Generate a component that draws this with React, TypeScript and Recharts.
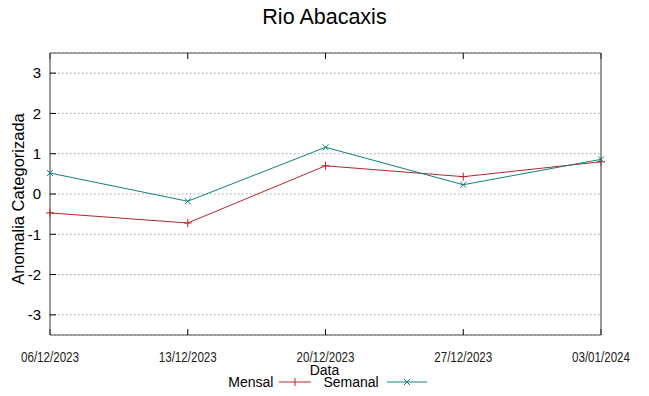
import { LineChart, Line, XAxis, YAxis, CartesianGrid } from 'recharts'

const dates = ['06/12/2023', '13/12/2023', '20/12/2023', '27/12/2023', '03/01/2024']
const mensal = [-0.47, -0.72, 0.7, 0.43, 0.8]
const semanal = [0.52, -0.18, 1.16, 0.23, 0.86]
const yTicks = [-3, -2, -1, 0, 1, 2, 3]

const RED = '#b0282c'
const TEAL = '#10807f'
const FONT = "'Liberation Sans', Arial, sans-serif"

const data = dates.map((d, i) => ({ date: d, mensal: mensal[i], semanal: semanal[i] }))

const PlusDot = (props: any) => {
  const { cx, cy } = props
  if (cx == null || cy == null) return <g />
  return (
    <path d={`M${cx - 4},${cy}H${cx + 4}M${cx},${cy - 4}V${cy + 4}`} stroke={RED} strokeWidth={1} fill="none" />
  )
}

const CrossDot = (props: any) => {
  const { cx, cy } = props
  if (cx == null || cy == null) return <g />
  return (
    <path d={`M${cx - 3},${cy - 3}L${cx + 3},${cy + 3}M${cx - 3},${cy + 3}L${cx + 3},${cy - 3}`} stroke={TEAL} strokeWidth={1} fill="none" />
  )
}

// narrow date labels under the x axis
const DateTick = (props: any) => {
  const { x, y, payload } = props
  return (
    <text
      transform={`translate(${x},${y + 31}) scale(0.8,1)`}
      textAnchor="middle"
      fontSize={14.5}
      fontFamily={FONT}
      fill="#222"
    >
      {payload.value}
    </text>
  )
}

const LegendBox = () => (
  <div
    style={{
      position: 'absolute',
      top: 374,
      left: 0,
      width: 649,
      display: 'flex',
      justifyContent: 'center',
      alignItems: 'center',
      fontFamily: FONT,
      fontSize: 14,
      color: '#000',
    }}
  >
    <span style={{ marginLeft: 6 }}>Mensal</span>
    <svg width={40} height={12} style={{ marginLeft: 2 }}>
      <line x1={4} y1={6} x2={36} y2={6} stroke={RED} />
      <path d="M20,2V10" stroke={RED} />
    </svg>
    <span style={{ marginLeft: 8 }}>Semanal</span>
    <svg width={46} height={12} style={{ marginLeft: 2 }}>
      <line x1={6} y1={6} x2={46} y2={6} stroke={TEAL} />
      <path d="M23,3L29,9M23,9L29,3" stroke={TEAL} />
    </svg>
  </div>
)

const empty = () => <g />

export default function App() {
  return (
    <div style={{ position: 'absolute', left: 0, top: 0, width: 649, height: 396, background: '#fff' }}>
      <div style={{ position: 'absolute', top: 5, width: 649, textAlign: 'center', fontFamily: FONT, fontSize: 21.5 }}>
        Rio Abacaxis
      </div>
      <div
        style={{
          position: 'absolute',
          left: 18,
          top: 199,
          transform: 'translate(-50%, -50%) rotate(-90deg)',
          fontFamily: FONT,
          fontSize: 16.5,
          whiteSpace: 'nowrap',
        }}
      >
        Anomalia Categorizada
      </div>
      <div style={{ position: 'absolute', top: 362, width: 649, textAlign: 'center', fontFamily: FONT, fontSize: 14 }}>
        Data
      </div>
      <LineChart width={649} height={396} data={data} margin={{ top: 52, right: 47, bottom: 60, left: 49 }}>
        <CartesianGrid vertical={false} horizontal stroke="#a0a0a0" strokeDasharray="1.5 2.5" />
        <XAxis
          dataKey="date"
          height={1}
          interval={0}
          axisLine={{ stroke: '#555', strokeWidth: 1.2 }}
          tickLine={{ stroke: '#000' }}
          tickSize={-6}
          tick={<DateTick />}
        />
        <XAxis
          dataKey="date"
          xAxisId="t"
          orientation="top"
          height={1}
          interval={0}
          axisLine={{ stroke: '#555', strokeWidth: 1.2 }}
          tickLine={{ stroke: '#000' }}
          tickSize={-6}
          tick={empty}
        />
        <YAxis
          width={1}
          type="number"
          domain={[-3.5, 3.5]}
          ticks={yTicks}
          interval={0}
          axisLine={{ stroke: '#555', strokeWidth: 1.2 }}
          tickLine={{ stroke: '#000' }}
          tickSize={-6}
          tickMargin={15}
          tick={{ fill: '#000', fontSize: 15, fontFamily: FONT }}
        />
        <YAxis
          yAxisId="r"
          orientation="right"
          width={1}
          type="number"
          domain={[-3.5, 3.5]}
          ticks={yTicks}
          interval={0}
          axisLine={{ stroke: '#555', strokeWidth: 1.2 }}
          tickLine={{ stroke: '#000' }}
          tickSize={-6}
          tick={empty}
        />
        <Line
          type="linear"
          dataKey="mensal"
          name="Mensal"
          stroke={RED}
          strokeWidth={1}
          dot={<PlusDot />}
          activeDot={false}
          isAnimationActive={false}
        />
        <Line
          type="linear"
          dataKey="semanal"
          name="Semanal"
          stroke={TEAL}
          strokeWidth={1}
          dot={<CrossDot />}
          activeDot={false}
          isAnimationActive={false}
        />
      </LineChart>
      <LegendBox />
    </div>
  )
}
